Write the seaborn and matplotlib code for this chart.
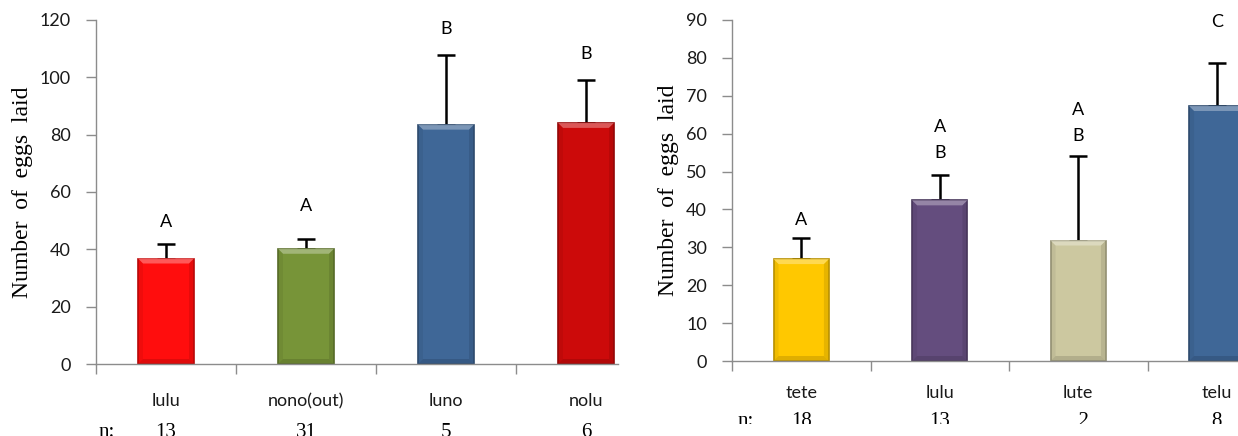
import numpy as np
import pandas as pd
import matplotlib
matplotlib.use("Agg")
import matplotlib.pyplot as plt
import matplotlib.colors as mcolors
from matplotlib.patches import Polygon
from matplotlib.transforms import blended_transform_factory, Bbox
import seaborn as sns

# ---- data: crosses in experiment 1 ----
left_groups = ["lulu", "nono(out)", "luno", "nolu"]
left_means = [36.8, 40.2, 83.5, 84.1]
left_se = [4.9, 3.3, 24.3, 15.0]
left_letters = ["A", "A", "B", "B"]
left_n = ["13", "31", "5", "6"]
left_colors = ["#FF0D0D", "#779438", "#3F6797", "#CC0A0A"]

# ---- data: crosses in experiment 2 ----
right_groups = ["tete", "lulu", "lute", "telu"]
right_means = [26.9, 42.4, 31.8, 67.3]
right_se = [5.6, 6.8, 22.3, 11.4]
right_letters = ["A", "A\nB", "A\nB", "C"]
right_n = ["18", "13", "  2", "8"]
right_colors = ["#FFC800", "#644D7E", "#CCC8A0", "#3F6797"]

# heights (data units) of the significance letters
left_letter_y = [49.5, 55.0, 117.0, 108.0]
right_letter_y = [37.3, 58.3, 62.9, 89.4]

sns.set_theme(style="white")
plt.rcParams["font.family"] = ["Lato", "DejaVu Sans"]

SANS = ["Lato", "DejaVu Sans"]
SERIF = ["Liberation Serif", "DejaVu Serif"]
AXIS_GRAY = "#8C8C8C"

fig = plt.figure(figsize=(12.38, 4.36), dpi=100)
W, H = 1238, 436


def add_bevel(ax, bar, color):
    """Excel-like bevel: darker rim and a light strip on top of each bar."""
    rgb = np.array(mcolors.to_rgb(color))
    dark = tuple(rgb * 0.72)
    light = tuple(rgb * 0.55 + 0.45)
    bar.set_edgecolor(dark)
    bar.set_linewidth(1.2)
    x0, y0 = bar.get_x(), bar.get_y()
    w, h = bar.get_width(), bar.get_height()
    inv = ax.transData.inverted()
    p0 = inv.transform(ax.transData.transform((x0, y0 + h)))
    px = inv.transform(ax.transData.transform((x0, y0 + h)) + np.array([5, -5]))
    dx = px[0] - p0[0]
    dy = p0[1] - px[1]
    z = bar.get_zorder() + 0.1
    bands = [
        ([(x0, y0 + h), (x0 + w, y0 + h), (x0 + w - dx, y0 + h - dy),
          (x0 + dx, y0 + h - dy)], light, 0.7),
        ([(x0 + w, y0 + h), (x0 + w, y0), (x0 + w - dx, y0 + dy),
          (x0 + w - dx, y0 + h - dy)], dark, 0.35),
        ([(x0, y0 + h), (x0, y0), (x0 + dx, y0 + dy),
          (x0 + dx, y0 + h - dy)], dark, 0.2),
        ([(x0, y0), (x0 + w, y0), (x0 + w - dx, y0 + dy),
          (x0 + dx, y0 + dy)], dark, 0.45),
    ]
    for pts, fc, a in bands:
        ax.add_patch(Polygon(pts, closed=True, facecolor=fc, edgecolor="none",
                             alpha=a, zorder=z))


def panel(rect_px, groups, means, se, letters, letter_y, ns, colors,
          ymax, ystep, xmax, label_pad, n_base, n_colon_x, ylabel_pad,
          n_clip_y=None):
    x_px, y_top, w_px, y_bot = rect_px
    ax = fig.add_axes([x_px / W, (H - y_bot) / H, w_px / W, (y_bot - y_top) / H])
    df = pd.DataFrame({"group": groups, "mean": means})
    sns.barplot(data=df, x="group", y="mean", hue="group", palette=colors,
                order=groups, hue_order=groups, width=0.4, legend=False,
                saturation=1, ax=ax, zorder=2)
    ax.set_xlim(-0.5, xmax)
    ax.set_ylim(0, ymax)

    for bar, c in zip(ax.patches, colors):
        add_bevel(ax, bar, c)

    xs = np.arange(len(groups))
    ax.errorbar(xs, means, yerr=[np.zeros(len(se)), se], fmt="none",
                ecolor="black", elinewidth=1.8, capsize=6.5, capthick=1.8,
                zorder=1)

    for x, txt, ly in zip(xs, letters, letter_y):
        ax.text(x, ly, txt, ha="center", va="center", fontsize=13,
                family=SANS, color="black", linespacing=1.75)

    sns.despine(ax=ax)
    for s in ("left", "bottom"):
        ax.spines[s].set_color(AXIS_GRAY)
        ax.spines[s].set_linewidth(1.0)

    ax.set_yticks(np.arange(0, ymax + 1, ystep))
    ax.tick_params(axis="y", direction="out", length=7, width=1.0,
                   color=AXIS_GRAY, pad=11, labelsize=13, labelcolor="#1a1a1a",
                   left=True)
    ax.set_xticks(xs, groups)
    ax.set_xticks(np.arange(-0.5, len(groups) - 0.5, 1.0), minor=True)
    ax.tick_params(axis="x", which="major", length=0, pad=label_pad,
                   labelsize=13, labelcolor="#1a1a1a")
    ax.tick_params(axis="x", which="minor", direction="out", length=7,
                   width=1.0, color=AXIS_GRAY, bottom=True)
    for t in ax.get_xticklabels() + ax.get_yticklabels():
        t.set_family(SANS)
    ax.set_xlabel("")
    ax.set_ylabel("Number  of  eggs  laid", family=SERIF, fontsize=17,
                  color="black", labelpad=ylabel_pad)

    # sample sizes row
    tr = blended_transform_factory(ax.transData, ax.transAxes)
    ny = -(n_base - y_bot) / (y_bot - y_top)
    row = [(x, n) for x, n in zip(xs, ns)] + [(n_colon_x, "n:")]
    for x, n in row:
        t = ax.text(x, ny, n, ha="center", va="baseline", family=SERIF,
                    fontsize=15, color="black", transform=tr, clip_on=False)
        if n_clip_y is not None:
            t.set_clip_box(Bbox.from_extents(0, H - n_clip_y, W, H))
            t.set_clip_on(True)
    return ax


# left panel: y axis at x=96, spans y 20..364, clipped at x=618
panel((96, 20, 522, 364), left_groups, left_means, left_se, left_letters,
      left_letter_y, left_n, left_colors, 120, 20,
      -0.5 + 522 / 140.0, 21, 437, -0.42, 5)

# right panel: y axis at x=732, spans y 20..361, clipped at image edge
panel((732, 20, 506, 361), right_groups, right_means, right_se, right_letters,
      right_letter_y, right_n, right_colors, 90, 10,
      -0.5 + 506 / 138.5, 17, 426, -0.4, 5, n_clip_y=424)

fig.savefig("out.png", dpi=100, facecolor="white")
